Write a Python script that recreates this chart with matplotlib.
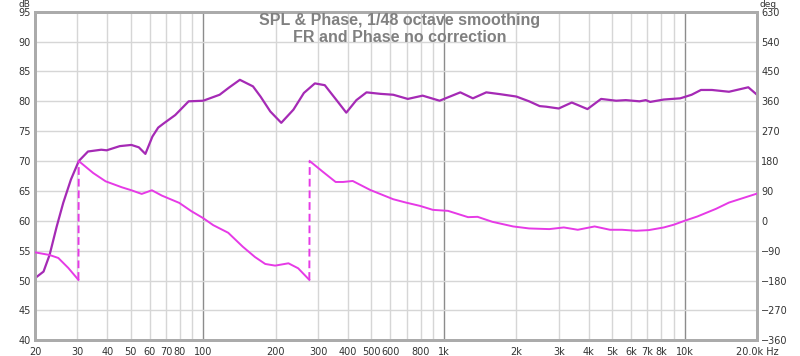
# SPL & phase plot, REW style (log freq axis, dB left, degrees right)

import numpy as np
import matplotlib
matplotlib.use('Agg')
import matplotlib.pyplot as plt

# SPL response (Hz, dB)
spl_freq = [20, 21.7, 23, 24.6, 26.2, 28.2, 30.4, 33.2, 37.7, 39.7, 45, 50.3, 54,
            57.5, 61.5, 65, 68.5, 76.5, 87, 100, 117, 128, 142, 161, 173, 190, 211,
            237, 262, 291, 320, 358, 393, 433, 477, 545, 616, 708, 816, 960,
            1170, 1320, 1500, 1710, 2000, 2260, 2500, 2660, 3000, 3400, 3950,
            4500, 5200, 5700, 6500, 6900, 7200, 8200, 9600, 10700, 11700, 13000,
            15300, 18400, 20000]
spl_db = [50.4, 51.5, 54.3, 59.0, 63.0, 66.9, 70.0, 71.6, 71.9, 71.8, 72.5, 72.7, 72.3,
          71.2, 74.1, 75.6, 76.3, 77.7, 80.0, 80.1, 81.1, 82.3, 83.6, 82.5, 80.8, 78.3, 76.4,
          78.6, 81.4, 83.0, 82.7, 80.2, 78.1, 80.2, 81.5, 81.25, 81.1, 80.4, 80.95, 80.1,
          81.5, 80.5, 81.5, 81.2, 80.8, 80.0, 79.2, 79.1, 78.8, 79.8, 78.7,
          80.4, 80.1, 80.2, 80.0, 80.2, 79.9, 80.3, 80.5, 81.1, 81.9, 81.9,
          81.6, 82.35, 81.1]

# phase, wrapped to +/-180 (Hz, deg)
phase_freq = [20, 23.0, 25, 27.5, 30.3, 30.4, 34.9, 39.3, 45.9, 50.3, 55.5, 61.2, 67.3,
              79.5, 89.3, 100, 110, 127, 146, 164, 181, 199, 226, 248, 276, 277, 315,
              355, 381, 418, 494, 616, 695, 795, 900, 1040, 1260, 1380, 1590, 1940,
              2260, 2740, 3150, 3600, 4230, 4900, 5500, 6300, 7100, 8200, 9000, 10000,
              11300, 13500, 15300, 20000]
phase_deg = [-95, -103, -112, -142, -178, 180, 144, 119, 101, 92, 81, 92, 76,
             54, 29, 8, -13, -36, -78, -109, -130, -135, -128, -143, -178, 180, 147,
             117, 117, 120, 93, 65, 55, 45, 33, 30, 11, 12, -3, -17,
             -23, -25, -20, -27, -17, -27, -27, -30, -28, -20, -12, 0,
             13, 36, 55, 82]

x_ticks = [20, 30, 40, 50, 60, 70, 80, 100, 200, 300, 400, 500, 600, 800, 1000,
           2000, 3000, 4000, 5000, 6000, 7000, 8000, 10000, 20000]
x_labels = ['20', '30', '40', '50', '60', '70', '80', '100', '200', '300', '400', '500',
            '600', '800', '1k', '2k', '3k', '4k', '5k', '6k', '7k', '8k', '10k', '20.0k Hz']

title_1 = 'SPL & Phase, 1/48 octave smoothing'
title_2 = 'FR and Phase no correction'

SPL_COLOR = '#a52ab5'
PHASE_COLOR = '#e63ae6'

fig = plt.figure(figsize=(8, 3.56), dpi=100)
ax = fig.add_axes([35 / 800, 1 - 340.3 / 356, 722 / 800, 328.6 / 356])
ax2 = ax.twinx()

ax.set_xscale('log')
ax.set_xlim(20, 20000)
ax.set_ylim(40, 95)
ax2.set_ylim(-360, 630)

# grid: light lines everywhere, darker at decades
for dec in [10, 100, 1000]:
    for m in range(2, 11):
        f = dec * m
        if f < 20 or f > 20000:
            continue
        dark = f in (100, 1000, 10000)
        ax.axvline(f, color='#8c8c8c' if dark else '#d6d6d6', lw=1.0, zorder=0)
for y in range(45, 95, 5):
    ax.axhline(y, color='#d6d6d6', lw=1.0, zorder=0)

ax.plot(spl_freq, spl_db, color=SPL_COLOR, lw=1.6, zorder=3)

# phase: split at wraps, connect with dashed verticals
pf = np.array(phase_freq)
pd_ = np.array(phase_deg)
cuts = np.where(np.abs(np.diff(pd_)) > 180)[0] + 1
starts = np.r_[0, cuts]
ends = np.r_[cuts, len(pf)]
for s, e in zip(starts, ends):
    ax2.plot(pf[s:e], pd_[s:e], color=PHASE_COLOR, lw=1.4, zorder=3)
for c in cuts:
    ax2.plot([pf[c - 1], pf[c]], [pd_[c - 1], pd_[c]], color=PHASE_COLOR,
             lw=1.4, ls=(0, (4, 2)))

ax.set_xticks(x_ticks)
ax.set_xticklabels(x_labels)
ax.xaxis.set_minor_locator(matplotlib.ticker.NullLocator())
ax.set_yticks(range(40, 96, 5))
ax2.set_yticks(range(-360, 631, 90))

for a in (ax, ax2):
    a.tick_params(length=0, labelsize=7, labelcolor='#333333', pad=3)
    for sp in a.spines.values():
        sp.set_color('#ababab')
        sp.set_linewidth(2)
ax.tick_params(axis='x', pad=5)

fig.text(24 / 800, 1, 'dB', fontsize=6.5, color='#333333', ha='center', va='top')
fig.text(759 / 800, 1, 'deg', fontsize=6.5, color='#333333', ha='left', va='top')

fig.text(400 / 800, 1 - 20 / 356, title_1, fontsize=11.5, fontweight='bold',
         family='Liberation Sans', color='#808080', ha='center', va='center')
fig.text(400 / 800, 1 - 37 / 356, title_2, fontsize=11.5, fontweight='bold',
         family='Liberation Sans', color='#808080', ha='center', va='center')

fig.savefig('out.png', dpi=100)
